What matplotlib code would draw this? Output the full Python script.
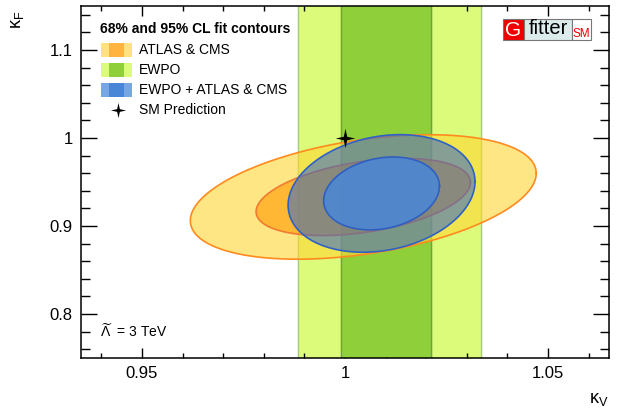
import numpy as np
import matplotlib
matplotlib.use("Agg")
import matplotlib.pyplot as plt
from matplotlib.patches import Rectangle
from matplotlib.path import Path
from matplotlib.ticker import MultipleLocator

plt.rcParams['font.family'] = ['Liberation Sans', 'DejaVu Sans']
plt.rcParams['mathtext.fontset'] = 'custom'
plt.rcParams['mathtext.rm'] = 'Liberation Sans'
plt.rcParams['mathtext.it'] = 'Liberation Sans:italic'
plt.rcParams['mathtext.bf'] = 'Liberation Sans:bold'

# fit results: centre, sigmas, correlation (kappa_V, kappa_F)
atlas_cms_center = (1.0045, 0.933)
atlas_cms_sigma = (0.0174, 0.0289)
atlas_cms_rho = 0.38

combined_center = (1.009, 0.937)
combined_sigma = (0.0094, 0.0273)
combined_rho = 0.20

# EWPO constraint on kappa_V only (68% and 95% intervals)
ewpo_68 = (0.9991, 1.0212)
ewpo_95 = (0.9885, 1.0334)

sm_point = (1.0, 1.0)
cl_chi2 = [2.30, 5.99]   # 68%, 95% for 2 dof

legend_labels = ["ATLAS & CMS", "EWPO", "EWPO + ATLAS & CMS", "SM Prediction"]


def contour(center, sigma, rho, chi2):
    t = np.linspace(0, 2 * np.pi, 400)
    k = np.sqrt(chi2)
    x = center[0] + k * sigma[0] * np.cos(t)
    y = center[1] + k * sigma[1] * (rho * np.cos(t) + np.sqrt(1 - rho**2) * np.sin(t))
    return x, y


# thin four-pointed star (ROOT style marker)
ang = np.arange(8) * np.pi / 4 + np.pi / 2
rad = np.where(np.arange(8) % 2 == 0, 1.0, 0.25)
star = Path(np.column_stack([rad * np.cos(ang), rad * np.sin(ang)]).tolist() + [[0, 1]],
            closed=True)

W, H = 618, 412
fig = plt.figure(figsize=(W / 100, H / 100), dpi=100)
ax = fig.add_axes([81 / W, 1 - 358 / H, (609 - 81) / W, (358 - 6) / H])


def px(x, y):
    return x / W, 1 - y / H


# EWPO bands
ax.axvspan(*ewpo_95, color='#ddfb7b', zorder=1)
ax.axvspan(*ewpo_68, color='#8fd03a', zorder=2)
for v in ewpo_95:
    ax.axvline(v, color='#a6c98a', lw=1, zorder=2)
for v in ewpo_68:
    ax.axvline(v, color='#6f9d55', lw=1, zorder=2)

# ATLAS & CMS
x, y = contour(atlas_cms_center, atlas_cms_sigma, atlas_cms_rho, cl_chi2[1])
ax.fill(x, y, color=(1.0, 0.84, 0.2), alpha=0.6, lw=0, zorder=3)
ax.plot(x, y, color='#ff8a1e', lw=1.2, zorder=3)
x, y = contour(atlas_cms_center, atlas_cms_sigma, atlas_cms_rho, cl_chi2[0])
ax.fill(x, y, color=(1.0, 0.6, 0.0), alpha=0.6, lw=0, zorder=4)
ax.plot(x, y, color='#f07a32', lw=1.2, zorder=4)

# EWPO + ATLAS & CMS
x, y = contour(combined_center, combined_sigma, combined_rho, cl_chi2[1])
ax.fill(x, y, color=(0.18, 0.40, 0.80), alpha=0.55, lw=0, zorder=5)
ax.plot(x, y, color='#2f62c4', lw=1.2, zorder=5)
x, y = contour(combined_center, combined_sigma, combined_rho, cl_chi2[0])
ax.fill(x, y, color='#4f88cf', alpha=0.95, lw=0, zorder=6)
ax.plot(x, y, color='#2f5fc0', lw=1.2, zorder=6)

# SM
ax.plot(*sm_point, marker=star, color='black', ms=14, mew=0, zorder=8)

ax.set_xlim(0.935, 1.065)
ax.set_ylim(0.75, 1.15)
ax.xaxis.set_major_locator(MultipleLocator(0.05))
ax.xaxis.set_minor_locator(MultipleLocator(0.01))
ax.yaxis.set_major_locator(MultipleLocator(0.1))
ax.yaxis.set_minor_locator(MultipleLocator(0.02))
ax.xaxis.set_major_formatter(plt.FuncFormatter(lambda v, p: f"{v:g}"))
ax.yaxis.set_major_formatter(plt.FuncFormatter(lambda v, p: f"{v:g}"))
ax.tick_params(which='both', direction='in', top=True, right=True, labelsize=12, width=1)
ax.tick_params(axis='x', which='major', length=7.2, pad=6)
ax.tick_params(axis='x', which='minor', length=3.6)
ax.tick_params(axis='y', which='major', length=11.5, pad=6)
ax.tick_params(axis='y', which='minor', length=6.5)
for s in ax.spines.values():
    s.set_linewidth(1.1)
    s.set_zorder(10)

fig.text(*px(17, 20), r'$\mathrm{\kappa}_\mathrm{F}$', rotation=90, fontsize=13, ha='center', va='center')
fig.text(*px(599, 400), r'$\mathrm{\kappa}_\mathrm{V}$', fontsize=13, ha='center', va='center')

# legend
fig.text(*px(100, 29), "68% and 95% CL fit contours", fontsize=10, fontweight='bold', va='center')
legend_cols = [('#ffe27f', '#ffb43f'), ('#ddfb7b', '#8fd03a'), ('#77a6e2', '#4a86d8')]
rows = [50, 70, 90, 110]
for (c_out, c_in), yy in zip(legend_cols, rows):
    fig.patches.append(Rectangle(px(101, yy + 7), 31 / W, 14 / H, transform=fig.transFigure,
                                 color=c_out, lw=0, zorder=11))
    fig.patches.append(Rectangle(px(109, yy + 7), 15 / W, 14 / H, transform=fig.transFigure,
                                 color=c_in, lw=0, zorder=12))
for lab, yy in zip(legend_labels, rows):
    fig.text(*px(139, yy), lab, fontsize=10, va='center')
fig.lines.append(plt.Line2D([118 / W], [1 - 110 / H], marker=star, color='black', ms=11, mew=0,
                            transform=fig.transFigure))

fig.text(*px(100, 331), r'$\widetilde{\Lambda}$  = 3 TeV', fontsize=10, va='center')

# Gfitter logo
fig.patches.append(Rectangle(px(503, 40), 21 / W, 21 / H, transform=fig.transFigure,
                             facecolor='#ee0000', edgecolor='#777777', lw=0.8, zorder=11))
fig.patches.append(Rectangle(px(524, 40), 48 / W, 21 / H, transform=fig.transFigure,
                             facecolor='#dcebeb', edgecolor='#777777', lw=0.8, zorder=11))
fig.patches.append(Rectangle(px(572, 40), 19 / W, 21 / H, transform=fig.transFigure,
                             facecolor='white', edgecolor='#777777', lw=0.8, zorder=11))
fig.text(*px(513.5, 30), "G", color='white', fontsize=15, ha='center', va='center', zorder=12)
fig.text(*px(548, 29), "fitter", color='black', fontsize=14.5, ha='center', va='center', zorder=12)
fig.text(*px(581.5, 34), "SM", color='#ee0000', fontsize=8.5, ha='center', va='center', zorder=12)

fig.savefig("out.png", dpi=100)
